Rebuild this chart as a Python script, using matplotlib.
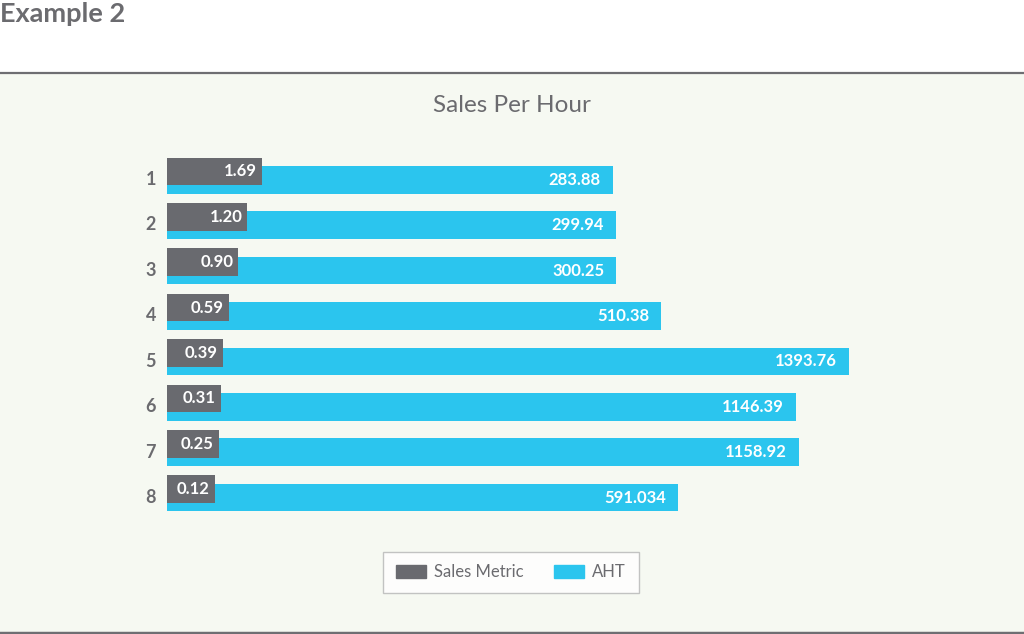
"""Sales Per Hour: paired horizontal bars, Sales Metric vs AHT on separate scales."""
import matplotlib.pyplot as plt
import matplotlib.transforms as mtransforms
from matplotlib.lines import Line2D
from matplotlib.patches import Rectangle

PANEL = "#f6f9f2"
RULE = "#6e6e72"
INK = "#6b6b6f"
GRAY_BAR = "#696a6f"
BLUE_BAR = "#2bc5ee"

ROWS = ["1", "2", "3", "4", "5", "6", "7", "8"]
SALES_METRIC = [1.69, 1.20, 0.90, 0.59, 0.39, 0.31, 0.25, 0.12]
AHT = [283.88, 299.94, 300.25, 510.38, 1393.76, 1146.39, 1158.92, 591.034]

# the source chart does not start either scale at zero
SALES_RANGE = (-1.485, 22.36)
AHT_RANGE = (-1813, 1541)


def main():
    plt.rcParams["font.family"] = ["Lato", "DejaVu Sans"]
    fig = plt.figure(figsize=(10.24, 6.34), dpi=100, facecolor="white")

    # shaded panel with rules top and bottom
    fig.patches.append(Rectangle((0, 0), 1, 1 - 73 / 634, transform=fig.transFigure,
                                 facecolor=PANEL, edgecolor="none", zorder=-5))
    fig.lines.append(Line2D([0, 1], [1 - 72.5 / 634] * 2, transform=fig.transFigure,
                            color=RULE, linewidth=1.6, zorder=-4))
    fig.lines.append(Line2D([0, 1], [1 - 632.5 / 634] * 2, transform=fig.transFigure,
                            color=RULE, linewidth=2.5, zorder=-4))

    fig.text(0.0, 1 - 14 / 634, "Example 2", fontsize=19.5, fontweight="bold",
             color=INK, ha="left", va="center")
    fig.text(512 / 1024, 1 - 105 / 634, "Sales Per Hour", fontsize=17.5,
             color=INK, ha="center", va="center")

    ax = fig.add_axes([167 / 1024, 1 - 530 / 634, 713 / 1024, 390 / 634])
    ax.set_facecolor("none")
    ax2 = ax.twiny()

    y = list(range(len(ROWS)))
    h = 0.606
    off = 0.0925

    ax.barh([i + off for i in y], [v - AHT_RANGE[0] for v in AHT], height=h,
            left=AHT_RANGE[0], color=BLUE_BAR, zorder=2, label="AHT")
    ax2.barh([i - off for i in y], [v - SALES_RANGE[0] for v in SALES_METRIC], height=h,
             left=SALES_RANGE[0], color=GRAY_BAR, zorder=3, label="Sales Metric")

    ax.set_xlim(*AHT_RANGE)
    ax2.set_xlim(*SALES_RANGE)
    for a in (ax, ax2):
        a.set_ylim(7.806, -0.784)
        for spine in a.spines.values():
            spine.set_visible(False)
        a.set_xticks([])

    ax.set_yticks(y)
    ax.set_yticklabels(ROWS, fontsize=13, color=INK, fontweight="bold")
    ax.tick_params(axis="y", length=0, pad=8)
    shift = mtransforms.ScaledTranslation(0, -2.5 / 100, fig.dpi_scale_trans)
    for lbl in ax.get_yticklabels():
        lbl.set_transform(lbl.get_transform() + shift)

    for i, v in enumerate(AHT):
        ax.annotate(f"{v}", (v, i + off), xytext=(-8.6, 0), textcoords="offset points",
                    ha="right", va="center", fontsize=12, color="white",
                    fontweight="bold", zorder=4)
    for i, v in enumerate(SALES_METRIC):
        ax2.annotate(f"{v:.2f}", (v, i - off), xytext=(-3.6, 0), textcoords="offset points",
                     ha="right", va="center", fontsize=12, color="white",
                     fontweight="bold", zorder=5)

    handles = [Rectangle((0, 0), 1, 1, color=GRAY_BAR), Rectangle((0, 0), 1, 1, color=BLUE_BAR)]
    legend = fig.legend(handles, ["Sales Metric", "AHT"], loc="center",
                        bbox_to_anchor=(511 / 1024, 1 - 572 / 634), ncol=2,
                        fontsize=12, frameon=True, fancybox=False, handlelength=1.8,
                        handleheight=0.8, columnspacing=1.8, borderpad=0.75,
                        handletextpad=0.5)
    legend.get_frame().set_edgecolor("#b5b5b5")
    legend.get_frame().set_facecolor("white")
    legend.get_frame().set_linewidth(1.0)
    for text in legend.get_texts():
        text.set_color(INK)

    fig.savefig("out.png", dpi=100, facecolor="white")
    plt.close(fig)


if __name__ == "__main__":
    main()
